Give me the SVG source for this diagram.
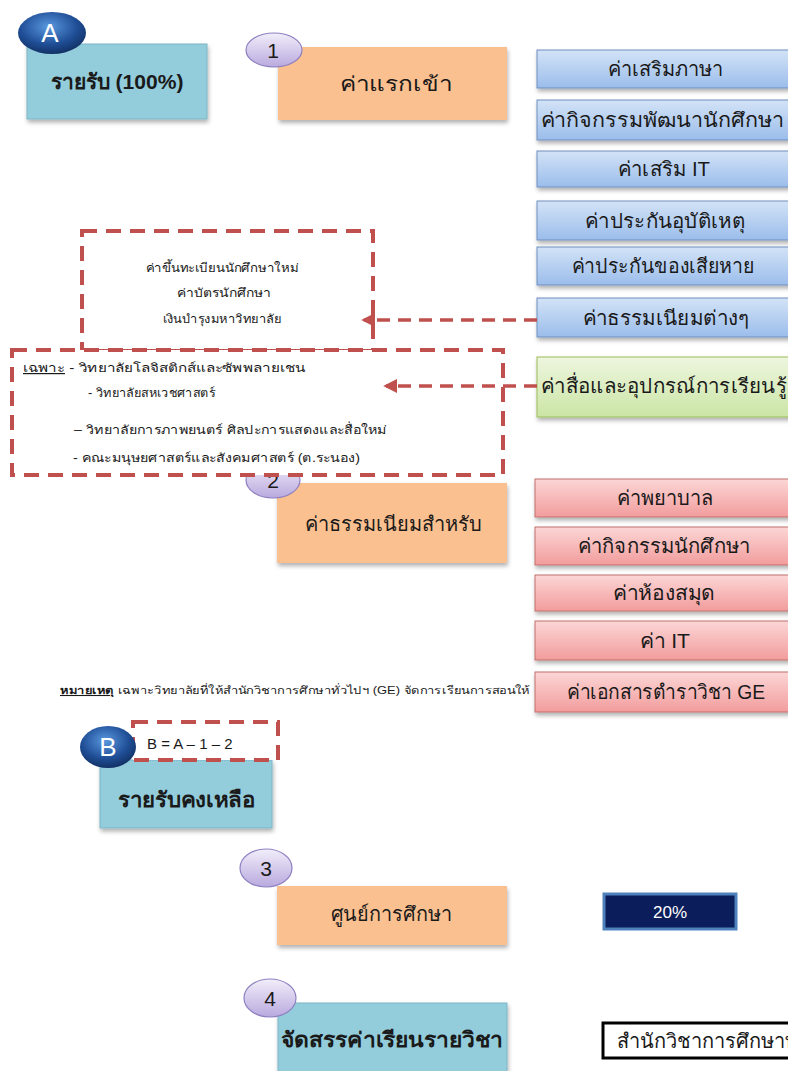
<svg xmlns="http://www.w3.org/2000/svg" width="788" height="1071" viewBox="0 0 788 1071">
<style>
text{font-family:"Liberation Sans","DejaVu Sans","Noto Sans",sans-serif;fill:#1a1a1a}
.c{text-anchor:middle}
.big{font-size:20px}
.bold{font-weight:bold;font-size:21px}
.sm{font-size:12px}
.orange{fill:#FAC090;filter:url(#sh)}
.teal{fill:#93CDDC;stroke:#7DB6C6;stroke-width:1;filter:url(#sh)}
.blue{fill:url(#gBlue);stroke:#6F8FBF;stroke-width:1;filter:url(#sh)}
.red{fill:url(#gRed);stroke:#C0706C;stroke-width:1;filter:url(#sh)}
.green{fill:url(#gGreen);stroke:#9BBB59;stroke-width:1;filter:url(#sh)}
.dash{fill:#fff;stroke:#C0504D;stroke-width:4;stroke-dasharray:15 9}
.conn{fill:none;stroke:#C0504D;stroke-width:3.5;stroke-dasharray:13 8}
.num{fill:url(#gLav);stroke:#8E80C0;stroke-width:1.2}
.letter{fill:url(#gDark)}
.lt{fill:#fff;font-size:26px;font-family:"Liberation Sans",sans-serif}
</style>
<defs>
<linearGradient id="gBlue" x1="0" y1="0" x2="0" y2="1"><stop offset="0" stop-color="#D3E3F7"/><stop offset="1" stop-color="#9BBDEB"/></linearGradient>
<linearGradient id="gRed" x1="0" y1="0" x2="0" y2="1"><stop offset="0" stop-color="#FCD6D6"/><stop offset="1" stop-color="#F29C9C"/></linearGradient>
<linearGradient id="gGreen" x1="0" y1="0" x2="0" y2="1"><stop offset="0" stop-color="#EEF6DF"/><stop offset="1" stop-color="#CBE5A5"/></linearGradient>
<linearGradient id="gLav" x1="0" y1="0" x2="0" y2="1"><stop offset="0" stop-color="#F2EEFA"/><stop offset="1" stop-color="#B9A9DE"/></linearGradient>
<radialGradient id="gDark" cx="0.45" cy="0.35" r="0.7"><stop offset="0" stop-color="#5A98E0"/><stop offset="0.6" stop-color="#1F4E96"/><stop offset="1" stop-color="#102C5C"/></radialGradient>
<filter id="sh" x="-10%" y="-10%" width="130%" height="140%"><feDropShadow dx="1" dy="3" stdDeviation="2" flood-color="#000" flood-opacity="0.3"/></filter>
<marker id="ah" viewBox="0 0 10 10" refX="8" refY="5" markerWidth="4" markerHeight="4" orient="auto"><path d="M10,5 L0,0 L0,10 Z" fill="#C0504D"/></marker>
</defs>

<g id="nodeA">
<rect class="teal" x="27" y="44" width="180" height="75"/>
<ellipse class="letter" cx="52" cy="33" rx="34" ry="21"/>
<text class="lt c" x="50" y="42">A</text>
<text class="bold c" x="117" y="89" textLength="133" lengthAdjust="spacingAndGlyphs">รายรับ (100%)</text>
</g>

<g id="node1">
<rect class="orange" x="278" y="47" width="229" height="73"/>
<ellipse class="num" cx="274" cy="50" rx="28" ry="17"/>
<text class="c" x="273" y="58" font-size="21">1</text>
<text class="big c" x="396" y="91" textLength="112" lengthAdjust="spacingAndGlyphs">ค่าแรกเข้า</text>
</g>

<g id="blue1"><rect class="blue" x="537" y="50" width="260" height="38"/><text class="big c" x="665" y="76" textLength="115" lengthAdjust="spacingAndGlyphs">ค่าเสริมภาษา</text></g>
<g id="blue2"><rect class="blue" x="537" y="100" width="260" height="40"/><text class="big c" x="662" y="127" textLength="243" lengthAdjust="spacingAndGlyphs">ค่ากิจกรรมพัฒนานักศึกษา</text></g>
<g id="blue3"><rect class="blue" x="537" y="151" width="260" height="36"/><text class="big c" x="664" y="176" textLength="92" lengthAdjust="spacingAndGlyphs">ค่าเสริม IT</text></g>
<g id="blue4"><rect class="blue" x="537" y="201" width="260" height="39"/><text class="big c" x="665" y="228" textLength="160" lengthAdjust="spacingAndGlyphs">ค่าประกันอุบัติเหตุ</text></g>
<g id="blue5"><rect class="blue" x="537" y="247" width="260" height="38"/><text class="big c" x="663" y="273" textLength="183" lengthAdjust="spacingAndGlyphs">ค่าประกันของเสียหาย</text></g>
<g id="blue6"><rect class="blue" x="537" y="298" width="260" height="39"/><text class="big c" x="666" y="325" textLength="167" lengthAdjust="spacingAndGlyphs">ค่าธรรมเนียมต่างๆ</text></g>
<g id="green1"><rect class="green" x="537" y="357" width="260" height="60"/><text class="big" x="541" y="393" textLength="246" lengthAdjust="spacingAndGlyphs">ค่าสื่อและอุปกรณ์การเรียนรู้</text></g>

<g id="note1">
<rect class="dash" x="82" y="231" width="291" height="120"/>
<text class="sm c" x="222" y="272" textLength="153" lengthAdjust="spacingAndGlyphs">ค่าขึ้นทะเบียนนักศึกษาใหม่</text>
<text class="sm c" x="224" y="297" textLength="95" lengthAdjust="spacingAndGlyphs">ค่าบัตรนักศึกษา</text>
<text class="sm c" x="222" y="323" textLength="119" lengthAdjust="spacingAndGlyphs">เงินบำรุงมหาวิทยาลัย</text>
</g>

<g id="node2">
<rect class="orange" x="277" y="483" width="230" height="80"/>
<ellipse class="num" cx="273" cy="480" rx="27" ry="18"/>
<text class="c" x="273" y="488" font-size="21">2</text>
<text class="big c" x="393" y="531" textLength="177" lengthAdjust="spacingAndGlyphs">ค่าธรรมเนียมสำหรับ</text>
</g>

<g id="note2">
<rect class="dash" x="12" y="350" width="491" height="125"/>
<text class="sm" x="23" y="372" textLength="282" lengthAdjust="spacingAndGlyphs"><tspan text-decoration="underline">เฉพาะ</tspan> - วิทยาลัยโลจิสติกส์และซัพพลายเชน</text>
<text class="sm" x="88" y="397" textLength="127" lengthAdjust="spacingAndGlyphs">- วิทยาลัยสหเวชศาสตร์</text>
<text class="sm" x="74" y="434" textLength="313" lengthAdjust="spacingAndGlyphs">– วิทยาลัยการภาพยนตร์  ศิลปะการแสดงและสื่อใหม่</text>
<text class="sm" x="73" y="462" textLength="287" lengthAdjust="spacingAndGlyphs">- คณะมนุษยศาสตร์และสังคมศาสตร์ (ต.ระนอง)</text>
</g>

<g id="connectors">
<path class="conn" d="M537,320 L364,320" marker-end="url(#ah)"/>
<path class="conn" d="M537,386 L386,386" marker-end="url(#ah)"/>
</g>

<g id="red1"><rect class="red" x="535" y="479" width="262" height="38"/><text class="big c" x="665" y="505" textLength="96" lengthAdjust="spacingAndGlyphs">ค่าพยาบาล</text></g>
<g id="red2"><rect class="red" x="535" y="527" width="262" height="38"/><text class="big c" x="664" y="553" textLength="172" lengthAdjust="spacingAndGlyphs">ค่ากิจกรรมนักศึกษา</text></g>
<g id="red3"><rect class="red" x="535" y="575" width="262" height="36"/><text class="big c" x="664" y="600" textLength="102" lengthAdjust="spacingAndGlyphs">ค่าห้องสมุด</text></g>
<g id="red4"><rect class="red" x="535" y="621" width="262" height="39"/><text class="big c" x="665" y="648" textLength="50" lengthAdjust="spacingAndGlyphs">ค่า IT</text></g>
<g id="red5"><rect class="red" x="535" y="672" width="262" height="40"/><text class="big c" x="666" y="699" textLength="198" lengthAdjust="spacingAndGlyphs">ค่าเอกสารตำราวิชา GE</text></g>

<g id="remark">
<text font-size="10.5" x="60" y="694" textLength="470" lengthAdjust="spacingAndGlyphs"><tspan font-weight="bold" text-decoration="underline">หมายเหตุ</tspan> เฉพาะวิทยาลัยที่ให้สำนักวิชาการศึกษาทั่วไปฯ (GE) จัดการเรียนการสอนให้</text>
</g>

<g id="nodeB">
<rect class="teal" x="100" y="760" width="172" height="68"/>
<rect class="dash" x="133" y="722" width="145" height="38" stroke-width="3" stroke-dasharray="11 6"/>
<text x="147" y="749" font-size="15">B = A – 1 – 2</text>
<ellipse class="letter" cx="108" cy="747" rx="28" ry="21"/>
<text class="lt c" x="108" y="756">B</text>
<text class="bold c" x="187" y="807" textLength="138" lengthAdjust="spacingAndGlyphs">รายรับคงเหลือ</text>
</g>

<g id="node3">
<rect class="orange" x="277" y="886" width="230" height="59"/>
<ellipse class="num" cx="266" cy="868" rx="26" ry="19"/>
<text class="c" x="266" y="876" font-size="21">3</text>
<text class="big c" x="391" y="921" textLength="121" lengthAdjust="spacingAndGlyphs">ศูนย์การศึกษา</text>
</g>

<g id="pct">
<rect x="604" y="894" width="132" height="35" fill="#0B1E5B" stroke="#4F81BD" stroke-width="3"/>
<text class="c" x="670" y="918" font-size="17" style="fill:#fff">20%</text>
</g>

<g id="node4">
<rect class="teal" x="278" y="1003" width="229" height="72"/>
<ellipse class="num" cx="270" cy="998" rx="26" ry="19"/>
<text class="c" x="270" y="1006" font-size="21">4</text>
<text class="bold c" x="392" y="1047" textLength="222" lengthAdjust="spacingAndGlyphs">จัดสรรค่าเรียนรายวิชา</text>
</g>

<g id="office">
<rect x="603" y="1023" width="200" height="35" fill="#fff" stroke="#000" stroke-width="3"/>
<text class="big" x="617" y="1048">สำนักวิชาการศึกษาทั่วไป</text>
</g>
</svg>
